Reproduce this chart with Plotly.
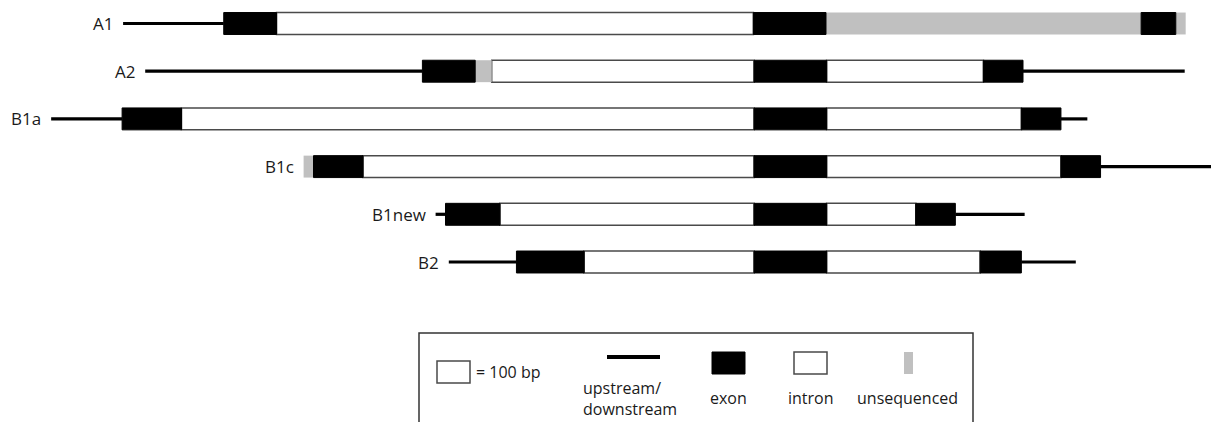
import plotly.graph_objects as go

# ---------------- data (lengths in bp) ----------------
names = ["A1", "A2", "B1a", "B1c", "B1new", "B2"]
starts = [373, 440, 155, 920, 1320, 1360]

A1_types = ["line", "exon", "intron", "exon", "unseq", "exon", "unseq"]
A1_lengths = [305, 160, 1445, 220, 955, 105, 30]

A2_types = ["line", "exon", "unseq", "intron", "exon", "intron", "exon", "line"]
A2_lengths = [840, 160, 50, 795, 220, 475, 120, 490]

B1a_types = ["line", "exon", "intron", "exon", "intron", "exon", "line"]
B1a_lengths = [215, 180, 1735, 220, 590, 120, 80]

B1c_types = ["unseq", "exon", "intron", "exon", "intron", "exon", "line"]
B1c_lengths = [30, 150, 1185, 220, 710, 120, 350]

B1new_types = ["line", "exon", "intron", "exon", "intron", "exon", "line"]
B1new_lengths = [30, 165, 770, 220, 270, 120, 210]

B2_types = ["line", "exon", "intron", "exon", "intron", "exon", "line"]
B2_lengths = [205, 205, 515, 220, 465, 125, 165]

types_list = [A1_types, A2_types, B1a_types, B1c_types, B1new_types, B2_types]
lengths_list = [A1_lengths, A2_lengths, B1a_lengths, B1c_lengths, B1new_lengths, B2_lengths]

scale_bp = 100
legend_labels = ["= 100 bp", "upstream/<br>downstream", "exon", "intron", "unsequenced"]

# ---------------- styling ----------------
W, H = 1219, 422
OFF = 8  # page body margin compensation
PX_PER_BP = 0.33
FONT = "Open Sans"
EXON = "#000000"
INTRON_LINE = "#4a4a4a"
UNSEQ = "#c0c0c0"
BOX_H = 0.46
TXT = "#1a1a1a"

seg = {"exon": ([], [], []), "intron": ([], [], []), "unseq": ([], [], [])}
lx, ly = [], []
for row, (s, tps, lns) in enumerate(zip(starts, types_list, lengths_list)):
    pos = s
    for t, L in zip(tps, lns):
        if t == "line":
            lx += [pos, pos + L, None]
            ly += [row, row, None]
        else:
            seg[t][0].append(row)
            seg[t][1].append(L)
            seg[t][2].append(pos)
        pos += L

fig = go.Figure()
fig.add_trace(go.Scatter(x=lx, y=ly, mode="lines",
                         line=dict(color="black", width=3.2), hoverinfo="skip"))
fig.add_trace(go.Bar(y=seg["intron"][0], x=seg["intron"][1], base=seg["intron"][2],
                     orientation="h", width=BOX_H,
                     marker=dict(color="white", line=dict(color=INTRON_LINE, width=1.5))))
fig.add_trace(go.Bar(y=seg["unseq"][0], x=seg["unseq"][1], base=seg["unseq"][2],
                     orientation="h", width=BOX_H,
                     marker=dict(color=UNSEQ, line=dict(width=0))))
fig.add_trace(go.Bar(y=seg["exon"][0], x=seg["exon"][1], base=seg["exon"][2],
                     orientation="h", width=BOX_H,
                     marker=dict(color=EXON, line=dict(color=EXON, width=1))))

annotations = []
for row, (n, s) in enumerate(zip(names, starts)):
    annotations.append(dict(x=s, y=row, xref="x", yref="y", text=n, showarrow=False,
                            xanchor="right", yanchor="middle", xshift=-8,
                            font=dict(family=FONT, size=17, color=TXT)))

def px(xp):
    return (xp - OFF) / W

def py(yp):
    return 1 - (yp - OFF) / H

shapes = [
    # legend frame
    dict(type="rect", xref="paper", yref="paper", x0=px(419), x1=px(973), y0=py(333), y1=-0.1,
         line=dict(color="#333333", width=1.5), fillcolor="white", layer="below"),
    # 100 bp scale box (drawn on the bp axis)
    dict(type="rect", xref="x", yref="paper", x0=437 / PX_PER_BP, x1=437 / PX_PER_BP + scale_bp,
         y0=py(361), y1=py(383), line=dict(color=INTRON_LINE, width=1.5), fillcolor="white"),
    # upstream/downstream line
    dict(type="line", xref="paper", yref="paper", x0=px(607), x1=px(660), y0=py(357), y1=py(357),
         line=dict(color="black", width=4)),
    # exon
    dict(type="rect", xref="paper", yref="paper", x0=px(712), x1=px(745), y0=py(352), y1=py(374),
         line=dict(color="black", width=1), fillcolor="black"),
    # intron
    dict(type="rect", xref="paper", yref="paper", x0=px(794), x1=px(827), y0=py(352), y1=py(374),
         line=dict(color=INTRON_LINE, width=1.5), fillcolor="white"),
    # unsequenced
    dict(type="rect", xref="paper", yref="paper", x0=px(904), x1=px(913), y0=py(352), y1=py(374),
         line=dict(width=0), fillcolor=UNSEQ),
]

lfont = dict(family=FONT, size=16, color=TXT)
annotations += [
    dict(x=px(474), y=py(372), xref="paper", yref="paper", text=legend_labels[0], showarrow=False,
         xanchor="left", yanchor="middle", font=lfont),
    dict(x=px(581), y=py(398), xref="paper", yref="paper", text=legend_labels[1], showarrow=False,
         xanchor="left", yanchor="middle", align="left", font=lfont),
    dict(x=px(728), y=py(398), xref="paper", yref="paper", text=legend_labels[2], showarrow=False,
         xanchor="center", yanchor="middle", font=lfont),
    dict(x=px(811), y=py(398), xref="paper", yref="paper", text=legend_labels[3], showarrow=False,
         xanchor="center", yanchor="middle", font=lfont),
    dict(x=px(907), y=py(398), xref="paper", yref="paper", text=legend_labels[4], showarrow=False,
         xanchor="center", yanchor="middle", font=lfont),
]

ROW_PX0, ROW_STEP = 23.5 - OFF, 47.7
fig.update_layout(
    width=W, height=H, autosize=False,
    margin=dict(l=0, r=0, t=0, b=0),
    paper_bgcolor="white", plot_bgcolor="white",
    barmode="overlay", showlegend=False,
    xaxis=dict(range=[OFF / PX_PER_BP, (W + OFF) / PX_PER_BP], visible=False, fixedrange=True),
    yaxis=dict(range=[(H - ROW_PX0) / ROW_STEP, -ROW_PX0 / ROW_STEP], visible=False, fixedrange=True),
    shapes=shapes, annotations=annotations,
)

fig.write_html("out.html")
